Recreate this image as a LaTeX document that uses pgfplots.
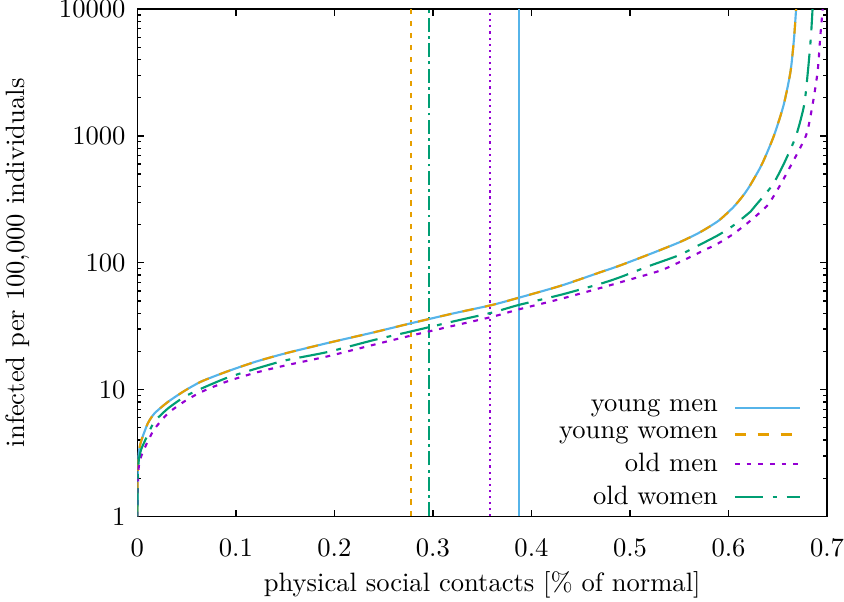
\documentclass[border=0pt]{standalone}
\usepackage{pgfplots}
\pgfplotsset{compat=1.18}
\usepackage{pgfplotstable}

\definecolor{cyoungmen}{RGB}{86,180,233}
\definecolor{cyoungwomen}{RGB}{230,159,0}
\definecolor{coldmen}{RGB}{148,0,211}
\definecolor{coldwomen}{RGB}{0,158,115}

% infected per 100,000 vs. share of normal physical contacts
\pgfplotstableread{
x y
0 1
0.0002 1.8
0.0006 2.5
0.0015 3.2
0.0037 3.9
0.0105 5.4
0.0174 6.5
0.031 8.0
0.048 9.8
0.065 11.6
0.091 13.9
0.12 16.6
0.15 19.3
0.193 23.3
0.24 28.3
0.278 33.4
0.32 39.8
0.36 46.5
0.387 53
0.43 66
0.469 83.8
0.489 94.7
0.52 117
0.55 145
0.571 174
0.59 215
0.605 275
0.615 340
0.622 409
0.634 600
0.646 1000
0.656 1760
0.663 3240
0.6666 6000
0.6686 10000
}\youngmen

\pgfplotstableread{
x y
0 1
0.0002 1.8
0.0006 2.5
0.0015 3.2
0.0037 3.9
0.0105 5.4
0.0174 6.5
0.031 8.0
0.048 9.8
0.065 11.6
0.091 13.9
0.12 16.6
0.15 19.3
0.193 23.3
0.24 28.3
0.278 33.4
0.32 39.8
0.36 46.5
0.387 53
0.43 66
0.469 83.8
0.489 94.7
0.52 117
0.55 145
0.571 174
0.59 215
0.605 275
0.615 340
0.622 409
0.634 600
0.646 1000
0.656 1760
0.663 3240
0.6666 6000
0.6686 10000
}\youngwomen

\pgfplotstableread{
x y
0 1
0.0002 1.4
0.0006 1.9
0.0015 2.5
0.004 3.0
0.0105 3.9
0.0174 4.9
0.031 6.5
0.048 8.1
0.065 9.6
0.091 11.6
0.12 13.6
0.15 15.5
0.193 18.3
0.24 22.6
0.278 26.7
0.32 31.8
0.36 37.5
0.387 42.9
0.43 52
0.469 63
0.489 69.8
0.53 86.4
0.55 101
0.571 121
0.59 143
0.605 169
0.622 214
0.6394 283
0.65 380
0.6598 521
0.6785 1000
0.6853 1760
0.6905 3240
0.6931 6000
0.6956 10000
}\oldmen

\pgfplotstableread{
x y
0 1
0.0002 1.6
0.0006 2.2
0.0015 2.8
0.004 3.4
0.0105 4.4
0.0174 5.6
0.031 7.1
0.048 8.8
0.065 10.2
0.091 12.4
0.12 14.6
0.15 17.0
0.193 19.8
0.24 24.6
0.278 28.8
0.32 34.4
0.36 40.5
0.387 46.5
0.43 56
0.469 68
0.489 76.5
0.52 94.7
0.55 115
0.571 139
0.59 166
0.605 197
0.6225 254
0.6275 283
0.6445 409
0.656 600
0.6685 1000
0.6768 1760
0.6806 3240
0.6836 6000
0.6853 10000
}\oldwomen

\begin{document}
\begin{tikzpicture}
\begin{axis}[
  width=259.5pt, height=190.9pt, scale only axis,
  xmin=0, xmax=0.7,
  ymode=log, ymin=1, ymax=10000,
  xtick={0,0.1,0.2,0.3,0.4,0.5,0.6,0.7},
  xticklabels={0,0.1,0.2,0.3,0.4,0.5,0.6,0.7},
  ytick={1,10,100,1000,10000},
  yticklabels={1,10,100,1000,10000},
  tick align=inside,
  xtick pos=both, ytick pos=both,
  xticklabel pos=lower, yticklabel pos=left,
  every tick label/.append style={inner sep=0pt},
  xticklabel style={yshift=-8.1pt},
  yticklabel style={xshift=-4.3pt},
  xlabel style={inner sep=1pt},
  ylabel style={inner sep=2pt},
  xlabel shift=4.4pt,
  ylabel shift=9pt,
  major tick length=2.6pt, minor tick length=1.5pt,
  every tick/.style={black, line width=0.5pt},
  axis line style={line width=0.6pt},
  xlabel={physical social contacts [\% of normal]},
  ylabel={infected per 100,000 individuals},
  legend plot pos=right,
  legend cell align=right,
  legend style={draw=none, fill=none, inner sep=0pt,
    at={(0.9635,0.004)}, anchor=south east,
    row sep=0pt,
    /tikz/every odd column/.append style={column sep=4pt}},
  legend image code/.code={\draw[#1] (0pt,0pt) -- (24.6pt,0pt);},
  every axis plot post/.append style={line join=round},
]
% reference levels
\addplot[forget plot, color=cyoungwomen, line width=0.7pt, dash pattern=on 1.9pt off 2.6pt]
  coordinates {(0.278,1) (0.278,10000)};
\addplot[forget plot, color=coldwomen, line width=0.7pt, dash pattern=on 5.3pt off 1.6pt on 1.1pt off 1.6pt]
  coordinates {(0.2964,1) (0.2964,10000)};
\addplot[forget plot, color=coldmen, line width=0.7pt, dash pattern=on 0.8pt off 1.5pt]
  coordinates {(0.3577,1) (0.3577,10000)};
\addplot[forget plot, color=cyoungmen, line width=0.7pt]
  coordinates {(0.3873,1) (0.3873,10000)};

\addplot[cyoungmen, line width=0.8pt, smooth, tension=0.4] table {\youngmen};
\addlegendentry{young men}
\addplot[cyoungwomen, line width=0.8pt, smooth, tension=0.4, dash pattern=on 4.3pt off 4.3pt] table {\youngwomen};
\addlegendentry{young women}
\addplot[coldmen, line width=0.8pt, smooth, tension=0.4, dash pattern=on 1.8pt off 2.6pt] table {\oldmen};
\addlegendentry{old men}
\addplot[coldwomen, line width=0.8pt, smooth, tension=0.4, dash pattern=on 10.7pt off 3.5pt on 1.8pt off 3.5pt] table {\oldwomen};
\addlegendentry{old women}
\end{axis}
\end{tikzpicture}
\end{document}
